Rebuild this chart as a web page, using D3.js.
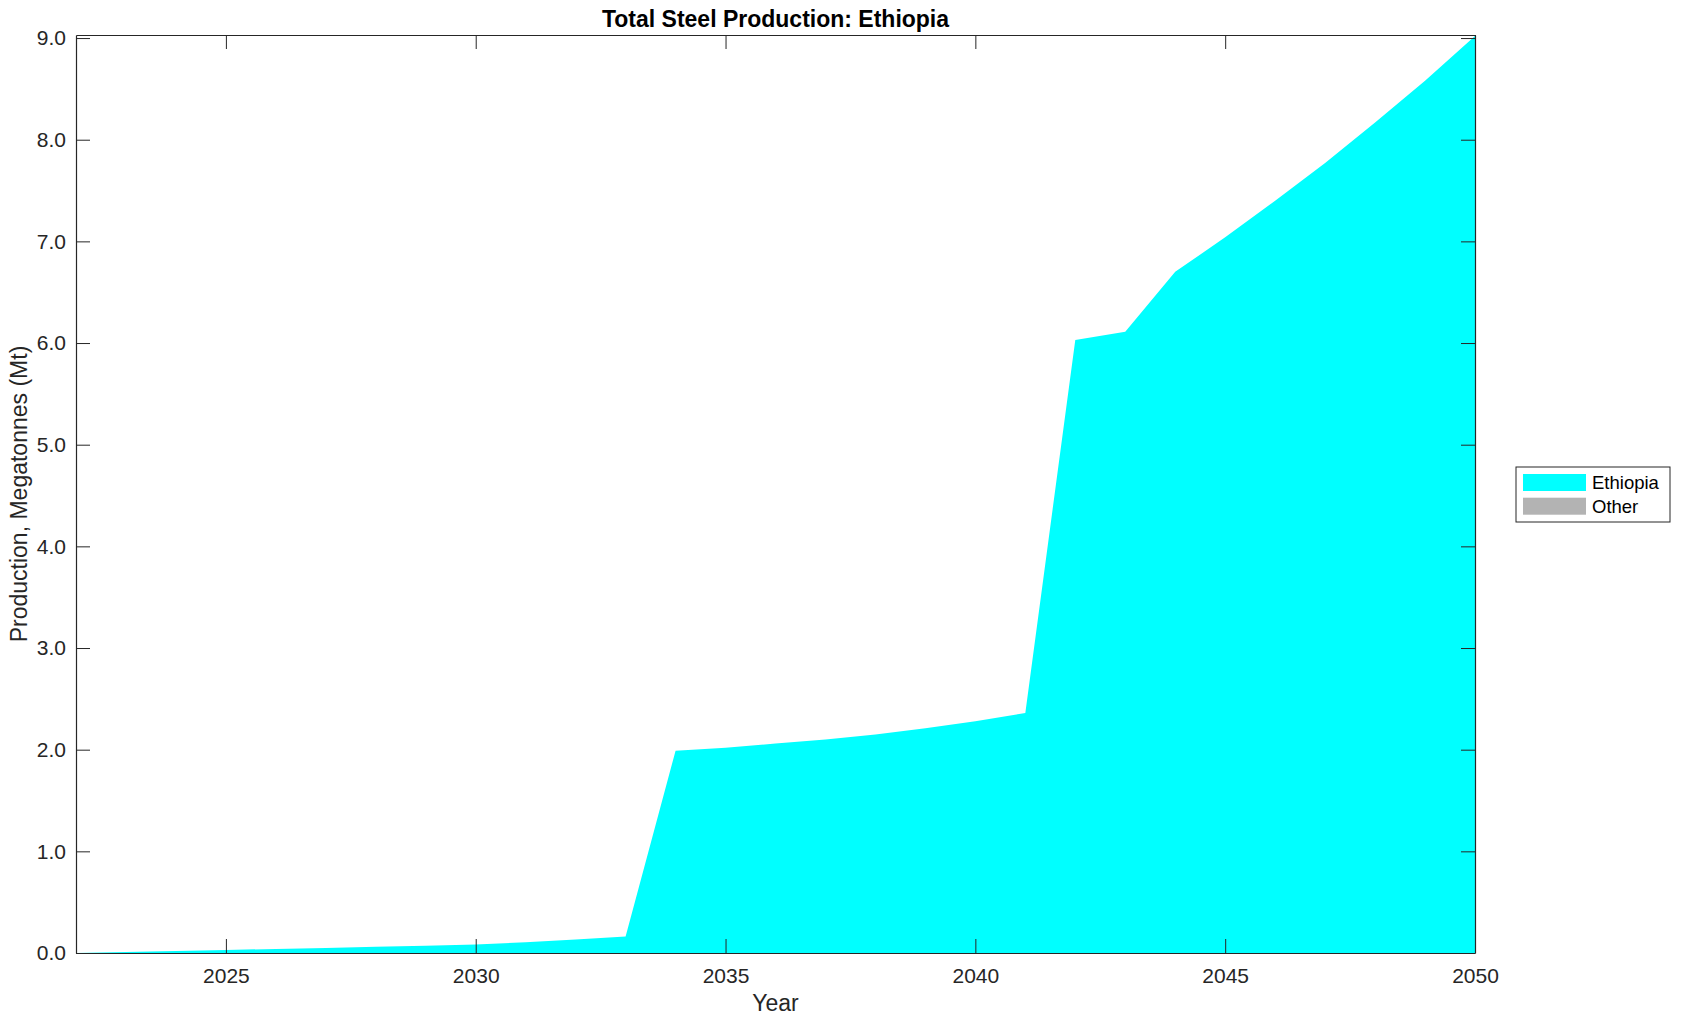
<!DOCTYPE html>
<html>
<head>
<meta charset="utf-8">
<script src="https://cdn.jsdelivr.net/npm/d3@7"></script>
<style>
  body { margin: 0; background: #fff; }
  svg { display: block; font-family: "Liberation Sans", Arial, Helvetica, sans-serif; }
</style>
</head>
<body>
<div id="vizDiv"></div>
<script>
var width = 1681
var height = 1021

// data
var years = [2022, 2023, 2024, 2025, 2026, 2027, 2028, 2029, 2030, 2031, 2032, 2033, 2034, 2035, 2036,
             2037, 2038, 2039, 2040, 2041, 2042, 2043, 2044, 2045, 2046, 2047, 2048, 2049, 2050]
var ethiopia = [0.000, 0.010, 0.020, 0.030, 0.040, 0.050, 0.061, 0.072, 0.083, 0.105, 0.132, 0.162, 1.99, 2.02, 2.06,
                2.10, 2.15, 2.21, 2.28, 2.36, 6.03, 6.11, 6.70, 7.04, 7.40, 7.77, 8.17, 8.58, 9.02]
var other = years.map(function () { return 0 })
var seriesNames = ["Ethiopia", "Other"]
var seriesColors = ["#00ffff", "#b3b3b3"]
var yTicks = [0, 1, 2, 3, 4, 5, 6, 7, 8, 9]
var xTicks = [2025, 2030, 2035, 2040, 2045, 2050]

var plotLeft = 76
var plotRight = 1475
var plotTop = 35
var plotBottom = 953
var tickLen = 14
var axisColor = "#262626"

var svg = d3.select("#vizDiv")
    .append("svg")
    .attr("width", width)
    .attr("height", height)

var x = d3.scaleLinear().domain([2022, 2050]).range([plotLeft, plotRight])
var y = d3.scaleLinear().domain([0, 9.03]).range([plotBottom, plotTop])

var table = years.map(function (yr, i) {
    return { year: yr, Ethiopia: ethiopia[i], Other: other[i] }
})
var stacked = d3.stack().keys(seriesNames)(table)

var area = d3.area()
    .x(function (d) { return x(d.data.year) })
    .y0(function (d) { return y(d[0]) })
    .y1(function (d) { return y(d[1]) })

svg.selectAll(".layer")
    .data(stacked)
    .enter()
    .append("path")
    .attr("class", "layer")
    .attr("d", area)
    .attr("fill", function (d, i) { return seriesColors[i] })
    .attr("stroke", "none")

// axes, box with inward ticks on all four sides
var fmt = d3.format(".1f")

var yAxisL = d3.axisLeft(y).tickValues(yTicks).tickFormat(fmt).tickSizeInner(-tickLen).tickSizeOuter(0).tickPadding(10)
var yAxisR = d3.axisRight(y).tickValues(yTicks).tickFormat("").tickSizeInner(-tickLen).tickSizeOuter(0)
var xAxisB = d3.axisBottom(x).tickValues(xTicks).tickFormat(d3.format("d")).tickSizeInner(-tickLen).tickSizeOuter(0).tickPadding(15)
var xAxisT = d3.axisTop(x).tickValues(xTicks).tickFormat("").tickSizeInner(-tickLen).tickSizeOuter(0)

function styleAxis(g) {
    g.selectAll("path").attr("stroke", axisColor).attr("stroke-width", 1.2)
    g.selectAll("line").attr("stroke", axisColor).attr("stroke-width", 1)
    g.selectAll("text").attr("fill", axisColor).style("font-size", "21px")
        .style("font-family", "\"Liberation Sans\", Arial, Helvetica, sans-serif")
}

svg.append("g").attr("transform", "translate(" + plotLeft + ",0)").call(yAxisL).call(styleAxis)
svg.append("g").attr("transform", "translate(" + plotRight + ",0)").call(yAxisR).call(styleAxis)
svg.append("g").attr("transform", "translate(0," + plotBottom + ")").call(xAxisB).call(styleAxis)
svg.append("g").attr("transform", "translate(0," + plotTop + ")").call(xAxisT).call(styleAxis)

// titles
svg.append("text")
    .attr("x", (plotLeft + plotRight) / 2)
    .attr("y", 27)
    .attr("text-anchor", "middle")
    .style("font-size", "23px")
    .style("font-weight", "bold")
    .attr("fill", "#000")
    .text("Total Steel Production: Ethiopia")

svg.append("text")
    .attr("x", (plotLeft + plotRight) / 2)
    .attr("y", 1011)
    .attr("text-anchor", "middle")
    .style("font-size", "23px")
    .attr("fill", axisColor)
    .text("Year")

svg.append("text")
    .attr("transform", "translate(27," + (plotTop + plotBottom) / 2 + ") rotate(-90)")
    .attr("text-anchor", "middle")
    .style("font-size", "23px")
    .attr("fill", axisColor)
    .text("Production, Megatonnes (Mt)")

// legend
var legend = svg.append("g").attr("transform", "translate(1516,467)")
legend.append("rect")
    .attr("width", 154)
    .attr("height", 55)
    .attr("fill", "#fff")
    .attr("stroke", axisColor)
    .attr("stroke-width", 1)

seriesNames.forEach(function (name, i) {
    legend.append("rect")
        .attr("x", 7)
        .attr("y", 7 + i * 23.7)
        .attr("width", 63)
        .attr("height", 17)
        .attr("fill", seriesColors[i])
    legend.append("text")
        .attr("x", 76)
        .attr("y", 22 + i * 23.7)
        .style("font-size", "18.5px")
        .attr("fill", "#000")
        .text(name)
})
</script>
</body>
</html>
